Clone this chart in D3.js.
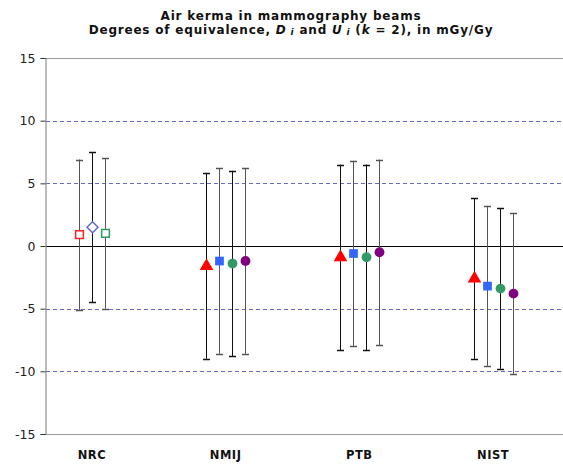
<!DOCTYPE html>
<html>
<head>
<meta charset="utf-8">
<script src="https://cdn.jsdelivr.net/npm/d3@7"></script>
<style>
  body { margin: 0; background: #fff; }
  svg { display: block; font-family: Verdana, "DejaVu Sans", sans-serif; }
</style>
</head>
<body>
<div id="chart"></div>
<script>
// data: degrees of equivalence D_i and expanded uncertainty U_i (k = 2), mGy/Gy
const labs = ["NRC", "NMIJ", "PTB", "NIST"]
const yTicks = [-15, -10, -5, 0, 5, 10, 15]

const nrcD = [0.9, 1.5, 1.0]
const nrcU = [6.0, 6.0, 6.0]
const nmijD = [-1.6, -1.2, -1.4, -1.2]
const nmijU = [7.4, 7.4, 7.4, 7.4]
const ptbD = [-0.9, -0.6, -0.9, -0.5]
const ptbU = [7.4, 7.4, 7.4, 7.4]
const nistD = [-2.6, -3.2, -3.4, -3.8]
const nistU = [6.4, 6.4, 6.4, 6.4]

// marker styles per point
const nrcMarks = [
  {shape: "hollowSquare", color: "#ff2020"},
  {shape: "hollowDiamond", color: "#6666cc"},
  {shape: "hollowSquare", color: "#339966"}
]
const beamMarks = [
  {shape: "triangle", color: "#ff0000"},
  {shape: "square", color: "#3366ff"},
  {shape: "circle", color: "#339966"},
  {shape: "circle", color: "#800080"}
]

const rows = []
function addLab(lab, D, U, marks) {
  D.forEach((d, i) => rows.push({lab, idx: i, n: D.length, d, u: U[i], mark: marks[i]}))
}
addLab("NRC", nrcD, nrcU, nrcMarks)
addLab("NMIJ", nmijD, nmijU, beamMarks)
addLab("PTB", ptbD, ptbU, beamMarks)
addLab("NIST", nistD, nistU, beamMarks)

// dimensions
const width = 563, height = 464
const plot = {left: 46, right: 563, top: 58, bottom: 434}

const svg = d3.select("#chart").append("svg")
  .attr("width", width)
  .attr("height", height)

// scales
const xScale = d3.scaleBand()
  .domain(labs)
  .range([25, 560])

const yScale = d3.scaleLinear()
  .domain([-15, 15])
  .range([plot.bottom, plot.top])

// offset of a point inside its lab group
const inner = n => d3.scalePoint()
  .domain(d3.range(n))
  .range(n === 3 ? [-13, 13] : [-19.5, 19.5])

const xPos = r => xScale(r.lab) + xScale.bandwidth() / 2 + inner(r.n)(r.idx)

// titles
const titleStyle = sel => sel
  .attr("x", 291)
  .attr("text-anchor", "middle")
  .attr("font-size", 12)
  .attr("letter-spacing", 0.8)
  .attr("font-weight", "bold")
  .attr("fill", "#111")

svg.append("text").call(titleStyle)
  .attr("y", 20)
  .text("Air kerma in mammography beams")

const t2 = svg.append("text").call(titleStyle).attr("y", 34)
t2.append("tspan").text("Degrees of equivalence, ")
t2.append("tspan").attr("font-style", "italic").text("D")
t2.append("tspan").attr("font-style", "italic").attr("font-size", 9).attr("dy", 1).text(" i")
t2.append("tspan").attr("dy", -1).text(" and ")
t2.append("tspan").attr("font-style", "italic").text("U")
t2.append("tspan").attr("font-style", "italic").attr("font-size", 9).attr("dy", 1).text(" i")
t2.append("tspan").attr("dy", -1).text(" (")
t2.append("tspan").attr("font-style", "italic").text("k")
t2.append("tspan").text("  = 2), in mGy/Gy")

// gridlines
svg.append("g")
  .selectAll("line")
  .data(yTicks.filter(t => t !== 0 && Math.abs(t) !== 15))
  .join("line")
    .attr("x1", plot.left)
    .attr("x2", plot.right)
    .attr("y1", d => Math.round(yScale(d)) + 0.5)
    .attr("y2", d => Math.round(yScale(d)) + 0.5)
    .attr("stroke", "#6a6acc")
    .attr("stroke-dasharray", "4,3")

// top and bottom frame
svg.append("g")
  .selectAll("line")
  .data([15, -15])
  .join("line")
    .attr("x1", plot.left)
    .attr("x2", plot.right)
    .attr("y1", d => Math.round(yScale(d)) + 0.5)
    .attr("y2", d => Math.round(yScale(d)) + 0.5)
    .attr("stroke", "#999")

// zero line
svg.append("line")
  .attr("x1", plot.left)
  .attr("x2", plot.right)
  .attr("y1", Math.round(yScale(0)) + 0.5)
  .attr("y2", Math.round(yScale(0)) + 0.5)
  .attr("stroke", "#000")

// y axis
const yAxis = svg.append("g")
  .attr("transform", `translate(${plot.left - 0.5},0)`)
  .call(d3.axisLeft(yScale).tickValues(yTicks).tickFormat(d => String(d)).tickSize(5).tickPadding(5))
yAxis.select(".domain").attr("stroke", "#777")
yAxis.selectAll(".tick line").attr("stroke", "#333")
yAxis.selectAll(".tick text")
  .attr("font-family", "Verdana, 'DejaVu Sans', sans-serif")
  .attr("font-size", 12.5)
  .attr("fill", "#222")

// x labels
svg.append("g")
  .selectAll("text")
  .data(labs)
  .join("text")
    .attr("x", d => xScale(d) + xScale.bandwidth() / 2)
    .attr("y", 459)
    .attr("text-anchor", "middle")
    .attr("font-size", 11.5)
    .attr("letter-spacing", 0.5)
    .attr("font-weight", "bold")
    .attr("fill", "#111")
    .text(d => d)

// error bars
const bars = svg.append("g")
  .selectAll("g")
  .data(rows)
  .join("g")
    .attr("stroke", (d, i) => i % 2 ? "#111" : "#555")

bars.append("line")
  .attr("x1", d => Math.round(xPos(d)) + 0.5)
  .attr("x2", d => Math.round(xPos(d)) + 0.5)
  .attr("y1", d => yScale(d.d + d.u))
  .attr("y2", d => yScale(d.d - d.u))

bars.selectAll("line.cap")
  .data(d => [d.d + d.u, d.d - d.u].map(v => ({x: xPos(d), v})))
  .join("line")
    .attr("class", "cap")
    .attr("x1", c => Math.round(c.x) - 3)
    .attr("x2", c => Math.round(c.x) + 4)
    .attr("y1", c => Math.round(yScale(c.v)) + 0.5)
    .attr("y2", c => Math.round(yScale(c.v)) + 0.5)
    .attr("stroke-width", 1.5)

// square diamond (rotated square) for hollow marker
const diamond = s => `M0,${-s}L${s},0L0,${s}L${-s},0Z`

// markers
svg.append("g")
  .selectAll("path")
  .data(rows)
  .join("path")
    .attr("transform", d => `translate(${Math.round(xPos(d)) + 0.5},${yScale(d.d)})`)
    .attr("d", d => {
      const s = d.mark.shape
      if (s === "triangle") return d3.symbol(d3.symbolTriangle, 80)()
      if (s === "square") return d3.symbol(d3.symbolSquare, 76)()
      if (s === "circle") return d3.symbol(d3.symbolCircle, 76)()
      if (s === "hollowSquare") return d3.symbol(d3.symbolSquare, 60)()
      if (s === "hollowDiamond") return diamond(5.5)
    })
    .attr("fill", d => d.mark.shape.startsWith("hollow") ? "#fff" : d.mark.color)
    .attr("stroke", d => d.mark.shape.startsWith("hollow") ? d.mark.color : "none")
    .attr("stroke-width", 1.5)
</script>
</body>
</html>
